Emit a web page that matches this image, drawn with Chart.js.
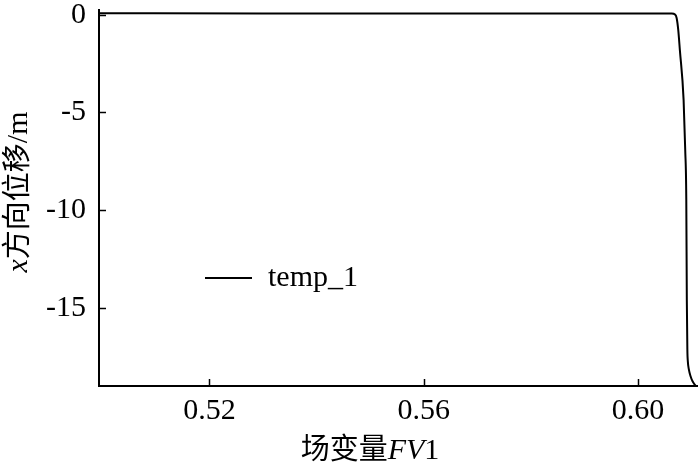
<!DOCTYPE html>
<html>
<head>
<meta charset="utf-8">
<script src="https://cdn.jsdelivr.net/npm/chart.js@4.4.1/dist/chart.umd.min.js"></script>
<style>
  html, body { margin: 0; padding: 0; background: #fff; }
  #wrap { width: 700px; height: 470px; position: relative; }
</style>
</head>
<body>
<div id="wrap"><canvas id="chart"></canvas></div>
<script>
// field variable FV1 (x) and x-direction displacement in m (y)
const fv1 = [0.4994, 0.53, 0.56, 0.59, 0.6063, 0.6069, 0.6072, 0.6075, 0.6078, 0.6085, 0.6088, 0.6090, 0.6091, 0.60920, 0.60929, 0.60948, 0.60980, 0.61017, 0.61077];
const dispX = [0.07, 0.065, 0.06, 0.06, 0.06, 0.01, -0.17, -0.78, -1.80, -4.36, -6.91, -9.46, -14.57, -17.12, -17.74, -18.15, -18.50, -18.76, -19.0];
const seriesName = 'temp_1';
const xTicks = [0.52, 0.56, 0.60];
const yTicks = [0, -5, -10, -15];

const serif = '"Liberation Serif", "Times New Roman", "Noto Sans CJK SC", serif';
const tickFont = 30;

// inward tick marks on both axes
const innerTicks = {
  id: 'innerTicks',
  afterDraw(chart) {
    const { ctx, chartArea, scales } = chart;
    ctx.save();
    ctx.strokeStyle = '#000';
    ctx.lineWidth = 1.5;
    scales.x.ticks.forEach(t => {
      const px = Math.round(scales.x.getPixelForValue(t.value)) + 0.5;
      ctx.beginPath();
      ctx.moveTo(px, chartArea.bottom);
      ctx.lineTo(px, chartArea.bottom - 7);
      ctx.stroke();
    });
    scales.y.ticks.forEach(t => {
      const py = Math.round(scales.y.getPixelForValue(t.value)) + 0.5;
      ctx.beginPath();
      ctx.moveTo(chartArea.left, py);
      ctx.lineTo(chartArea.left + 7, py);
      ctx.stroke();
    });
    ctx.restore();
  }
};

// draw a run of text pieces with their own fonts
function drawPieces(ctx, pieces, x, y) {
  let total = 0;
  pieces.forEach(p => { ctx.font = p.font; total += ctx.measureText(p.text).width; });
  let cx = x - total / 2;
  pieces.forEach(p => {
    ctx.font = p.font;
    ctx.fillText(p.text, cx, y);
    cx += ctx.measureText(p.text).width;
  });
}

// axis titles (with italic variable names) and the legend inside the plot
const titlesAndLegend = {
  id: 'titlesAndLegend',
  afterDraw(chart) {
    const { ctx, chartArea } = chart;
    ctx.save();
    ctx.fillStyle = '#000';
    ctx.textBaseline = 'alphabetic';

    const cjk = '29px ' + serif;
    const roman = '30px ' + serif;
    const italic = 'italic 30px ' + serif;

    // x title
    drawPieces(ctx, [
      { text: '场变量', font: cjk },
      { text: 'FV', font: italic },
      { text: '1', font: roman }
    ], 370, 459);

    // y title
    ctx.save();
    ctx.translate(27, 192);
    ctx.rotate(-Math.PI / 2);
    drawPieces(ctx, [
      { text: 'x', font: italic },
      { text: '方向位移', font: cjk },
      { text: '/m', font: roman }
    ], 0, 0);
    ctx.restore();

    // legend
    const ds = chart.data.datasets[0];
    const lx = chartArea.left + 106, ly = 278;
    ctx.strokeStyle = ds.borderColor;
    ctx.lineWidth = 2;
    ctx.beginPath();
    ctx.moveTo(lx, ly);
    ctx.lineTo(lx + 47, ly);
    ctx.stroke();
    ctx.font = roman;
    ctx.textBaseline = 'middle';
    ctx.fillText(ds.label, lx + 63, ly);
    ctx.restore();
  }
};

new Chart(document.getElementById('chart'), {
  type: 'line',
  data: {
    datasets: [{
      label: seriesName,
      data: fv1.map((v, i) => ({ x: v, y: dispX[i] })),
      borderColor: '#000',
      borderWidth: 2,
      pointRadius: 0,
      fill: false,
      cubicInterpolationMode: 'monotone'
    }]
  },
  options: {
    responsive: true,
    maintainAspectRatio: false,
    animation: false,
    layout: { padding: { top: 10, right: 3, left: 0, bottom: 0 } },
    plugins: {
      legend: { display: false },
      tooltip: { enabled: false }
    },
    scales: {
      x: {
        type: 'linear',
        min: 0.4994,
        max: 0.6110,
        afterBuildTicks: (s) => { s.ticks = xTicks.map(v => ({ value: v })); },
        afterFit: (s) => { s.height = 84; s.paddingLeft = 0; s.paddingRight = 0; },
        grid: { drawOnChartArea: false, drawTicks: false },
        border: { display: true, color: '#000', width: 2 },
        ticks: {
          color: '#000',
          padding: 7,
          font: { family: serif, size: tickFont },
          callback: (v) => Number(v).toFixed(2)
        }
      },
      y: {
        type: 'linear',
        min: -19.0,
        max: 0.24,
        afterBuildTicks: (s) => { s.ticks = yTicks.map(v => ({ value: v })); },
        afterFit: (s) => { s.width = 99; s.paddingTop = 0; s.paddingBottom = 0; },
        grid: { drawOnChartArea: false, drawTicks: false },
        border: { display: true, color: '#000', width: 2 },
        ticks: {
          color: '#000',
          padding: 13,
          font: { family: serif, size: tickFont },
          callback: (v) => String(v)
        }
      }
    }
  },
  plugins: [innerTicks, titlesAndLegend]
});
</script>
</body>
</html>
